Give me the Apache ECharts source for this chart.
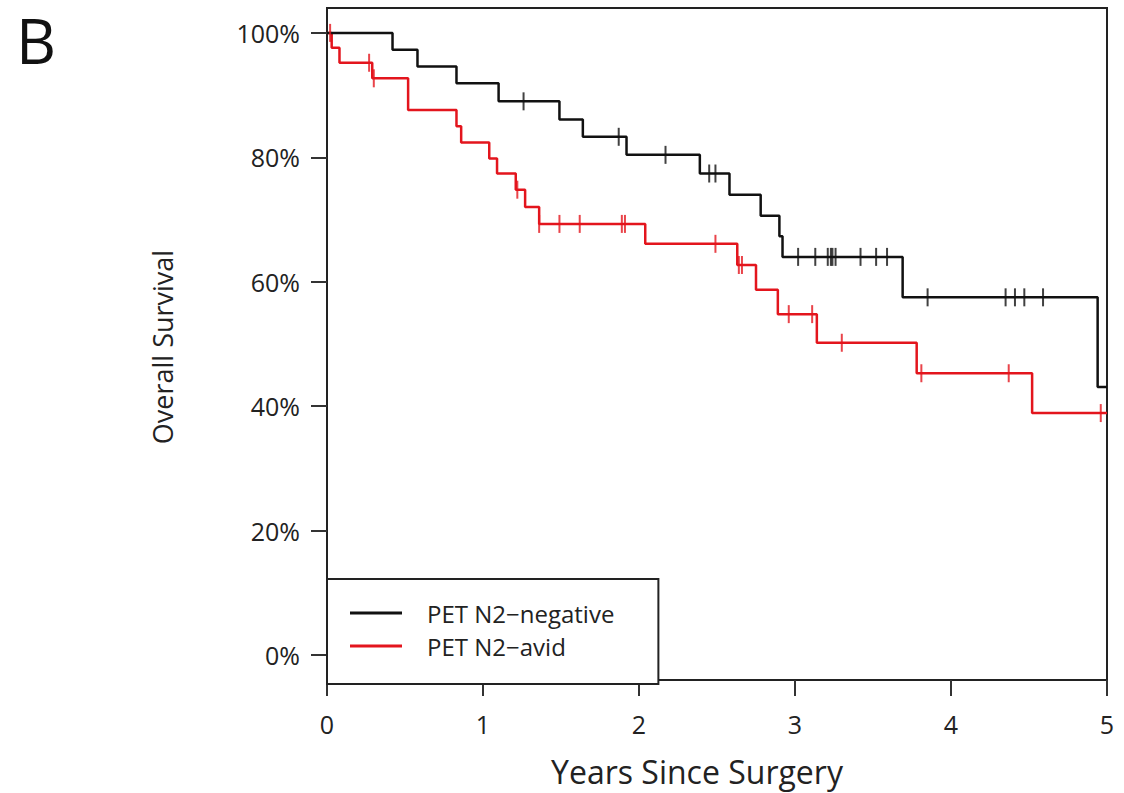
<!DOCTYPE html>
<html>
<head>
<meta charset="utf-8">
<script src="https://cdn.jsdelivr.net/npm/echarts@6/dist/echarts.min.js"></script>
<style>
  html, body { margin: 0; padding: 0; background: #fff; }
  #chart { width: 1124px; height: 793px; }
</style>
</head>
<body>
<div id="chart"></div>
<script>
// Kaplan-Meier steps (years, survival fraction)
var negTimes = [0, 0.42, 0.58, 0.83, 1.10, 1.49, 1.64, 1.92, 2.39, 2.58, 2.78, 2.90, 2.92, 3.69, 4.94, 5]
var negSurv = [1.0, 0.973, 0.946, 0.919, 0.890, 0.861, 0.833, 0.804, 0.774, 0.740, 0.706, 0.673, 0.640, 0.575, 0.431, 0.431]
var negCensor = [1.26, 1.87, 2.17, 2.45, 2.49, 3.02, 3.13, 3.21, 3.23, 3.24, 3.26, 3.42, 3.52, 3.59, 3.85, 4.35, 4.41, 4.47, 4.59]

var avidTimes = [0, 0.03, 0.08, 0.29, 0.52, 0.83, 0.86, 1.04, 1.09, 1.21, 1.27, 1.36, 2.04, 2.63, 2.75, 2.89, 3.14, 3.78, 4.52, 5]
var avidSurv = [1.0, 0.976, 0.952, 0.927, 0.876, 0.850, 0.824, 0.798, 0.774, 0.748, 0.720, 0.693, 0.661, 0.627, 0.587, 0.548, 0.502, 0.453, 0.389, 0.389]
var avidCensor = [0.02, 0.27, 0.30, 1.22, 1.36, 1.49, 1.62, 1.89, 1.91, 2.49, 2.64, 2.66, 2.96, 3.11, 3.30, 3.81, 4.37, 4.96]

var xTicks = [0, 1, 2, 3, 4, 5]
var yTicks = [0, 0.2, 0.4, 0.6, 0.8, 1.0]

var seriesNames = ['PET N2\u2212negative', 'PET N2\u2212avid']
var colors = ['#111111', '#e3151d']

// survival value at time t (value holds until the next drop)
function survAt(times, surv, t) {
  var v = surv[0]
  for (var i = 0; i < times.length; i++) {
    if (times[i] <= t) v = surv[i]
  }
  return v
}

function pairs(times, surv) {
  return times.map(function (t, i) { return [t, surv[i]] })
}

function censorPts(censor, times, surv) {
  return censor.map(function (t) { return [t, survAt(times, surv, t)] })
}

var font = '"Open Sans", "Noto Sans", sans-serif'
var chart = echarts.init(document.getElementById('chart'), null, { renderer: 'svg' })

chart.setOption({
  animation: false,
  backgroundColor: '#fff',
  textStyle: { fontFamily: font },
  grid: {
    left: 327, right: 17, top: 8, bottom: 113,
    show: true, borderColor: '#222', borderWidth: 2, backgroundColor: 'transparent'
  },
  legend: {
    data: seriesNames,
    orient: 'vertical',
    left: 327, top: 579,
    icon: 'rect',
    itemWidth: 52, itemHeight: 3, itemGap: 9,
    padding: [22, 44, 26, 23],
    borderColor: '#222', borderWidth: 2,
    backgroundColor: '#fff',
    textStyle: { fontSize: 24, color: '#222', fontFamily: font, lineHeight: 22, padding: [0, 0, 0, 20] }
  },
  xAxis: {
    type: 'value', min: 0, max: 5, interval: 1,
    axisLine: { show: true, onZero: false, lineStyle: { color: '#222', width: 2 } },
    axisTick: { show: true, length: 16, lineStyle: { color: '#333', width: 2 } },
    axisLabel: { fontSize: 25, color: '#222', margin: 31, fontFamily: font },
    splitLine: { show: false }
  },
  yAxis: {
    type: 'value', min: -0.04, max: 1.04,
    axisLine: { show: true, lineStyle: { color: '#222', width: 2 } },
    axisTick: { show: true, length: 16, customValues: yTicks, lineStyle: { color: '#333', width: 2 } },
    axisLabel: {
      fontSize: 25, color: '#222', margin: 27, fontFamily: font,
      customValues: yTicks,
      formatter: function (v) { return Math.round(v * 100) + '%' }
    },
    splitLine: { show: false }
  },
  graphic: [
    { type: 'text', x: 16, y: 40, style: { text: 'B', fontSize: 62, fill: '#111', fontFamily: font, textVerticalAlign: 'middle' } },
    { type: 'text', x: 697, y: 771, style: { text: 'Years Since Surgery', fontSize: 32, fill: '#222', fontFamily: font, textAlign: 'center', textVerticalAlign: 'middle' } },
    { type: 'text', x: 162, y: 347, rotation: Math.PI / 2, style: { text: 'Overall Survival', fontSize: 27, fill: '#222', fontFamily: font, textAlign: 'center', textVerticalAlign: 'middle' } }
  ],
  series: [
    {
      name: seriesNames[0], type: 'line', step: 'end', symbol: 'none',
      lineStyle: { color: colors[0], width: 2.5 }, itemStyle: { color: colors[0] },
      data: pairs(negTimes, negSurv), z: 3
    },
    {
      name: seriesNames[1], type: 'line', step: 'end', symbol: 'none',
      lineStyle: { color: colors[1], width: 2.5 }, itemStyle: { color: colors[1] },
      data: pairs(avidTimes, avidSurv), z: 2
    },
    {
      name: 'neg-censor', type: 'scatter', symbol: 'rect', symbolSize: [2, 18],
      itemStyle: { color: colors[0] }, data: censorPts(negCensor, negTimes, negSurv), z: 4
    },
    {
      name: 'avid-censor', type: 'scatter', symbol: 'rect', symbolSize: [2, 18],
      itemStyle: { color: colors[1] }, data: censorPts(avidCensor, avidTimes, avidSurv), z: 4
    }
  ]
})
</script>
</body>
</html>
